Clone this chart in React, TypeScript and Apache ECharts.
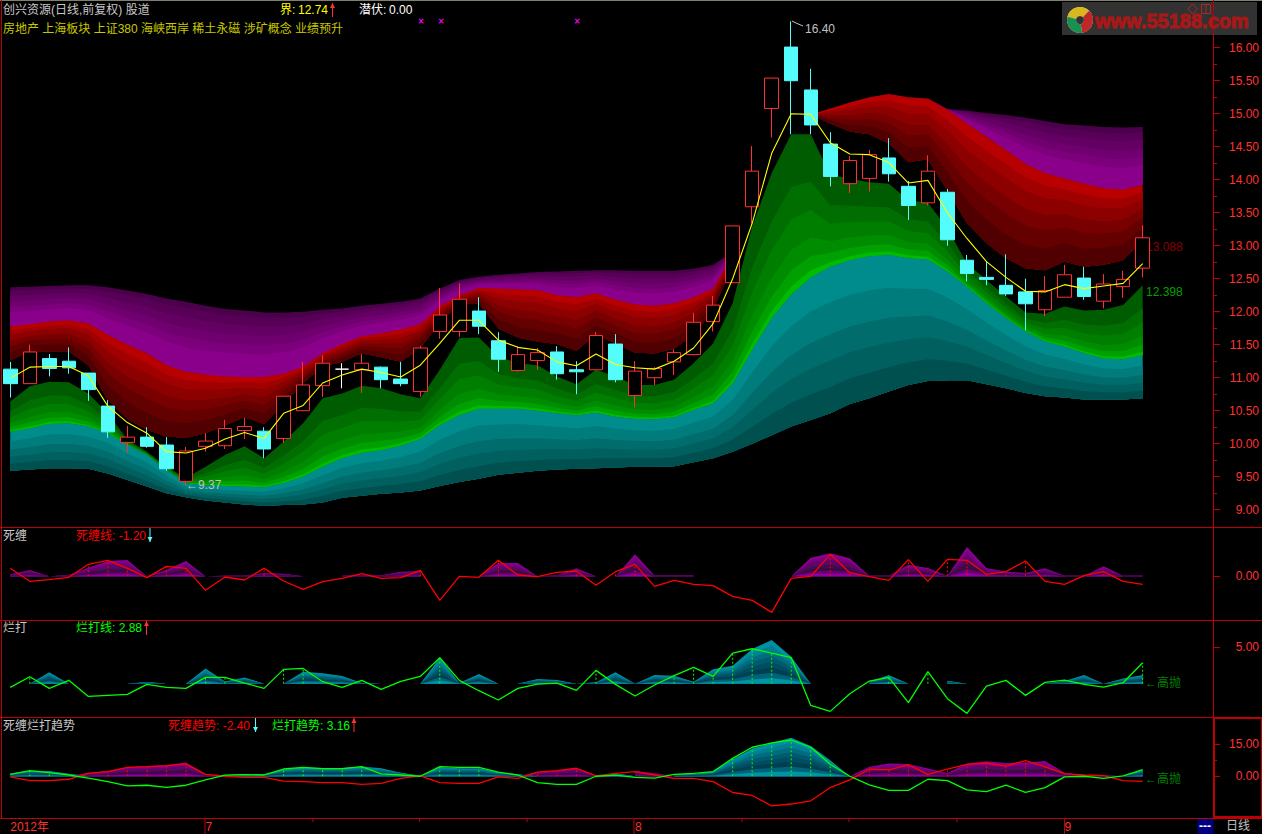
import React, { useEffect, useRef } from "react";
import * as echarts from "echarts";

// ---- candles ----
const opens = [11.13,10.91,11.29,11.25,11.07,10.57,10.02,10.10,9.98,9.43,9.96,9.97,10.20,10.19,10.08,10.50,10.88,11.13,11.12,11.16,10.98,10.79,11.70,11.70,12.01,11.56,11.11,11.26,11.39,11.12,11.12,11.51,10.73,11.00,11.24,11.35,11.85,12.44,13.59,15.08,16.01,15.36,14.54,13.94,14.02,14.33,13.90,13.65,13.81,12.78,12.52,12.40,12.30,12.03,12.22,12.51,12.16,12.38,12.66];
const closes = [10.91,11.39,11.14,11.15,10.82,10.18,10.10,9.96,9.62,9.89,10.04,10.23,10.26,9.92,10.72,10.89,11.22,11.13,11.22,10.97,10.91,11.45,11.95,12.19,11.78,11.28,11.35,11.38,11.06,11.09,11.64,10.97,11.10,11.14,11.38,11.84,12.10,13.30,14.13,15.54,15.50,14.83,14.05,14.29,14.38,14.09,13.61,14.13,13.09,12.58,12.49,12.27,12.12,12.32,12.56,12.23,12.42,12.49,13.12];
const lows = [10.70,10.91,11.02,11.06,10.65,10.09,9.86,9.94,9.59,9.37,9.88,9.92,10.07,9.78,10.01,10.50,10.71,10.84,10.77,10.84,10.87,10.71,11.59,11.62,11.66,11.09,11.09,11.12,10.97,10.75,11.12,10.93,10.55,10.89,11.04,11.34,11.70,12.44,13.34,14.64,14.69,14.69,13.90,13.80,13.82,13.97,13.39,13.61,13.00,12.46,12.40,12.24,11.72,11.93,12.22,12.18,12.05,12.21,12.52];
const highs = [11.24,11.50,11.36,11.46,11.07,10.66,10.27,10.25,10.10,9.95,10.16,10.36,10.39,10.25,10.72,11.24,11.34,11.22,11.36,11.17,11.24,11.48,12.36,12.43,12.22,11.69,11.48,11.45,11.48,11.25,11.69,11.66,11.25,11.16,11.43,11.98,12.24,13.30,14.51,15.54,16.40,15.68,14.72,14.36,14.45,14.63,13.98,14.37,13.86,12.86,12.76,12.87,12.50,12.54,12.71,12.68,12.57,12.62,13.31];
const ma = [10.99,11.16,11.17,11.17,11.03,10.57,10.32,10.16,9.88,9.86,9.93,10.07,10.17,10.08,10.46,10.58,10.92,11.04,11.13,11.08,11.01,11.19,11.52,11.87,11.87,11.57,11.46,11.42,11.24,11.18,11.36,11.20,11.15,11.13,11.25,11.45,11.82,12.50,13.34,14.40,15.00,14.99,14.56,14.39,14.38,14.26,13.95,13.99,13.50,13.11,12.76,12.52,12.31,12.30,12.41,12.35,12.39,12.43,12.73];

// ---- ribbon edges ----
const N = null;
const purpleTop = [12.37,12.38,12.39,12.40,12.40,12.37,12.32,12.27,12.20,12.15,12.09,12.04,12.02,11.99,11.99,12.00,12.03,12.05,12.09,12.12,12.15,12.20,12.35,12.48,12.53,12.56,12.58,12.60,12.61,12.62,12.63,12.63,12.62,12.62,12.62,12.65,12.71,12.91,N,N,N,14.99,15.08,15.17,15.25,15.30,15.25,15.23,15.07,15.05,15.01,14.98,14.94,14.89,14.84,14.82,14.80,14.79,14.80];
const redTop = [11.78,11.81,11.85,11.87,11.82,11.65,11.50,11.37,11.19,11.09,11.05,11.02,11.01,11.01,11.06,11.17,11.37,11.51,11.63,11.67,11.73,11.81,12.08,12.25,12.36,12.35,12.34,12.33,12.25,12.22,12.28,12.18,12.11,12.09,12.13,12.22,12.35,12.86,N,N,N,14.99,15.08,15.17,15.25,15.30,15.25,15.23,15.06,14.85,14.65,14.45,14.24,14.10,14.02,13.94,13.87,13.85,13.92];
const redBottom = [11.26,11.40,11.40,11.40,11.19,10.66,10.38,10.21,10.11,10.09,10.16,10.28,10.40,10.30,10.61,10.92,11.17,11.24,11.37,11.31,11.24,11.45,11.82,12.12,12.12,11.75,11.61,11.55,11.51,11.41,11.66,11.52,11.38,11.37,11.44,11.65,12.03,12.71,N,N,N,14.99,14.85,14.73,14.69,14.55,14.27,14.31,13.84,13.34,13.04,12.81,12.66,12.63,12.76,12.68,12.71,12.78,13.09];
const greenTop = [10.64,10.87,10.94,10.93,10.76,10.46,10.06,9.88,9.65,9.48,9.65,9.83,9.96,9.78,10.03,10.31,10.69,10.76,10.88,10.84,10.75,10.69,11.12,11.60,11.61,11.32,11.22,11.19,11.02,10.90,11.12,11.02,10.89,10.89,10.97,11.22,11.52,12.13,13.29,14.10,14.69,14.69,14.07,14.02,13.96,13.94,13.69,13.65,13.26,12.73,12.48,12.23,11.99,11.97,12.08,12.02,12.03,12.10,12.40];
const tealTop = [10.18,10.23,10.30,10.31,10.26,10.16,9.98,9.83,9.60,9.40,9.37,9.36,9.35,9.34,9.40,9.50,9.65,9.78,9.86,9.90,9.97,10.07,10.28,10.43,10.53,10.53,10.53,10.50,10.46,10.43,10.47,10.41,10.38,10.37,10.40,10.51,10.61,10.91,11.42,11.90,12.26,12.52,12.68,12.78,12.84,12.86,12.81,12.79,12.61,12.38,12.13,11.90,11.70,11.55,11.47,11.37,11.29,11.28,11.34];
const tealBottom = [9.59,9.61,9.63,9.63,9.62,9.55,9.45,9.35,9.25,9.19,9.14,9.11,9.08,9.06,9.07,9.08,9.11,9.18,9.21,9.24,9.26,9.29,9.36,9.42,9.47,9.53,9.56,9.59,9.61,9.62,9.63,9.64,9.65,9.65,9.66,9.72,9.78,9.88,10.00,10.13,10.26,10.36,10.46,10.60,10.69,10.79,10.89,10.95,10.96,10.96,10.90,10.84,10.77,10.72,10.70,10.67,10.67,10.67,10.69];

// ---- sub panels ----
const deathLine = [1.2,-0.75,-0.5,-0.15,1.8,2.4,1.2,-0.2,1.5,1.2,-2.1,-0.1,-0.55,1.2,-0.7,-1.95,-0.8,-0.3,0.4,-0.3,-0.2,0.9,-3.6,0,-0.15,2.4,0.2,-0.05,0.6,0.8,-1.35,0.7,1.8,-1.5,-0.6,-1.2,-1.4,-3,-3.6,-5.4,-0.3,0,3.3,0.55,-0.05,-0.6,2.5,-0.75,2.55,2.4,0.3,0.7,2.3,-0.75,-1.2,0.1,0.7,-0.75,-1.2];
const deathArea = [0.3,0.95,0,0.2,1.3,2.3,2.45,0,1.0,2.3,0,0.1,0.1,0.5,0.4,0,N,0.1,0.15,0.15,0.7,0.8,N,N,0,2.0,2.0,0,0.15,1.2,0,0,3.3,0.12,0.12,0.12,N,N,N,N,0,2.8,3.45,2.7,0.1,0.1,1.75,1.25,0.1,4.4,1.25,0.7,0.5,1.2,0.1,0.1,1.5,0.1,0.1];
const deathDots = [4,5,6,8,9,13,21,25,29,31,32,42,43,46,48,49,50,51,52,56];
const beatLine = [-0.5,0.96,-0.64,0.46,-1.74,-1.6,-1.47,-0.09,-0.5,-0.64,0.87,0.87,0.09,-0.64,1.97,2.1,0.27,-0.5,0.46,-0.78,0.32,1.0,3.57,0.46,-0.96,-2.24,-0.64,-0.05,0.09,-0.92,1.83,-0.09,-1.69,-0.18,1.1,2.24,1.0,4.2,4.8,4.2,3.57,-2.98,-3.8,-1.37,0.37,0.87,-2.6,1.65,-2.06,-4.07,-0.32,0.46,-1.6,0.18,0.5,-0.09,-0.46,0.14,2.88];
const beatArea = [N,0,1.56,0,N,N,0,0.25,0,0,2.1,0.3,0.87,0,0,1.65,1.42,1.05,0.1,0,N,0,3.57,0.1,1.33,0,0,0.64,0.5,0,0.2,1.56,0,1.2,1.1,0.27,2.0,2.47,4.76,6.0,3.7,0,N,N,0.27,1.2,0,N,0.4,0,N,N,N,0,0.37,1.2,0,0.73,1.2];
const beatDots = [1,10,11,14,15,22,30,34,35,36,37,38,39,40,45,47,58];
const trendRed = [-0.3,-2,-2,-1.4,1.4,2.2,4.2,4.5,5,5.8,0.9,0,-0.5,-0.5,-2.3,-2.5,-3,-3,-3.75,-3.3,-1,0.15,-3,-3.3,-3.3,-0.3,-1,1.9,2.65,3.75,0.15,1.4,2.2,0.6,-1,-1,-2.5,-7.6,-9,-13.9,-13,-11.5,-5.3,-1.7,3.3,3,5.3,0.9,3.4,5.6,6.1,4.8,7.3,4.5,1.1,0.6,0.3,-2,-2.4];
const trendGreen = [0.9,2.65,1.7,0.6,-0.9,-2.5,-4.5,-4.2,-5.2,-4.2,-1.7,0.5,0.8,0.6,3.4,4.2,3.6,3.6,4.5,1.1,0.6,0,4.5,4.2,4.2,1.9,0.6,-3,-3.75,-3.75,0,0.5,-0.5,-0.9,0.9,1.4,2.2,8.4,13.6,15.6,17,13.6,5.6,0,-4,-6.6,-6.6,-1.4,-2,-6.4,-7.2,-4.2,-7.5,-5.3,-0.3,0,-1,0.15,3.16];
const trendPurpleArea = [N,N,N,0,1.6,2.5,4.4,4.7,5.2,6.5,0.9,0,N,N,N,N,N,N,N,N,N,N,N,N,N,N,0,1.9,2.6,3.7,0.4,N,2.5,1.4,0,N,N,N,N,N,N,N,N,0,4.5,6,5.8,3.6,1.5,6,7,6.2,6.5,7.2,1.6,0.6,0.5,0,N];
const trendTealArea = [1.3,2.6,2.5,1.2,0,N,N,N,N,N,N,0.6,0.9,0.7,3.2,4.1,3.9,3.9,4.6,3.7,1.7,0.3,4.2,3.7,3.7,1.9,1.0,0,N,N,0,1.4,0,N,0.9,1,2.2,8,13,15.6,18,14.2,7.5,0,N,N,N,N,N,N,N,N,N,N,N,N,N,0,3];
const trendRedDots = [5,6,7,8,9,27,28,29,44,45,46,47,48,49,50,51,52,53];
const trendGreenDots = [1,2,14,15,16,17,18,22,23,24,37,38,39,40,41,42];

const mainTicks = [9,9.5,10,10.5,11,11.5,12,12.5,13,13.5,14,14.5,15,15.5,16];
const mainMinorTicks = [9.25,9.75,10.25,10.75,11.25,11.75,12.25,12.75,13.25,13.75,14.25,14.75,15.25,15.75];
const timeLabels: Record<number, string> = { 0: "2012年", 10: "7", 32: "8", 54: "9" };
const timeTicks = [313, 419.5, 527, 742, 849, 957];
const timeSeps = [205, 634, 1064.5];
const concepts = "房地产 上海板块 上证380 海峡西岸 稀土永磁 涉矿概念 业绩预升";

const purpleShades = ["#4a004a","#580058","#640064","#700070","#7c007c","#8a008a"];
const redShades = ["#b80000","#a00000","#8c0000","#780000","#640000","#500000"];
const greenShades = ["#005c00","#006e00","#007e00","#008c00","#00a000","#00bc00"];
const tealShades = ["#008c8c","#007c7c","#006c6c","#006060","#005050"];
const purpleFill = ["#8a0090","#7a0080","#680070","#560a60","#440a50","#3a0a40","#6a0070","#9000a0"];
const tealFill = ["#0090a4","#007f92","#006c80","#005a6e","#004c60","#003e52","#006478","#0094a4"];

const RED_AXIS = "#c00000";
const RED_TEXT = "#ff3232";
const FONT = '"Liberation Sans","Noto Sans CJK SC"';
const n = closes.length;
const categories = Array.from({ length: n + 3 }, (_, i) => String(i));

// Each ribbon's outer edges are read values. The shade boundaries inside it
// are a fill style: fractions of the read edges.
function ribbon(name: string, top: (number|null)[], bottom: (number|null)[] | null, colors: string[], stops: number[], g: number, z: number) {
  return {
    type: "custom", name, xAxisIndex: g, yAxisIndex: g, z, silent: true,
    data: [[0, 0]], encode: { x: 0, y: 1 },
    renderItem: (_: any, api: any) => {
      const runs: number[][] = [];
      let run: number[] = [];
      top.forEach((t, i) => {
        const b = bottom ? bottom[i] : 0;
        if (t == null || b == null) { if (run.length) runs.push(run); run = []; }
        else run.push(i);
      });
      if (run.length) runs.push(run);
      const children: any[] = [];
      runs.filter((r) => r.length > 1).forEach((r) => {
        colors.forEach((c, k) => {
          const upper = r.map((i) => {
            const t = top[i] as number, b = bottom ? (bottom[i] as number) : 0;
            return api.coord([i, t + (b - t) * stops[k]]);
          });
          const lower = [...r].reverse().map((i) => api.coord([i, bottom ? (bottom[i] as number) : 0]));
          children.push({ type: "polygon", silent: true, shape: { points: [...upper, ...lower] }, style: { fill: c } });
        });
      });
      return { type: "group", children };
    },
  };
}

function dots(name: string, idx: number[], values: number[], color: string, g: number) {
  return {
    type: "custom", name, xAxisIndex: g, yAxisIndex: g, z: 4, silent: true,
    data: idx.map((i) => [i, values[i]]), encode: { x: 0, y: 1 },
    renderItem: (_: any, api: any) => {
      const a = api.coord([api.value(0), 0]);
      const b = api.coord([api.value(0), api.value(1)]);
      return { type: "line", shape: { x1: a[0], y1: a[1], x2: b[0], y2: b[1] },
        style: { stroke: color, lineWidth: 1, lineDash: [2, 2] } };
    },
  };
}

function line(name: string, data: number[], color: string, g: number) {
  return { type: "line", name, data, xAxisIndex: g, yAxisIndex: g, z: 5, symbol: "none",
    lineStyle: { color, width: 1.3 }, silent: true };
}

const uniform = (k: number) => Array.from({ length: k + 1 }, (_, i) => i / k);

const txt = (text: string, x: number, y: number, fill: string, extra: any = {}, z = 20) => ({
  type: "text", silent: true, z,
  style: { text, x, y, fill, font: `12px ${FONT}`, textVerticalAlign: "middle", ...extra },
});
const seg = (x1: number, y1: number, x2: number, y2: number, stroke = RED_AXIS, lineWidth = 1) => ({
  type: "line", silent: true, z: 15, shape: { x1, y1, x2, y2 }, style: { stroke, lineWidth },
});
const arrow = (x: number, y: number, fill: string, down = false) => {
  const tip = down ? y + 7 : y - 7;
  const neck = down ? y + 2 : y - 2;
  return [
    seg(x, y - 7, x, y + 7, fill),
    { type: "polygon", silent: true, z: 15, shape: { points: [[x - 2.5, neck], [x + 2.5, neck], [x, tip]] }, style: { fill } },
  ];
};

function yAxis(g: number, min: number, max: number, ticks: number[], len: number, labels: boolean) {
  return {
    type: "value", gridIndex: g, position: "right", offset: 2, min, max, scale: true,
    axisLine: { show: false }, splitLine: { show: false },
    axisTick: { show: true, customValues: ticks, length: len, lineStyle: { color: RED_AXIS } },
    axisLabel: labels
      ? { show: true, customValues: ticks, color: RED_TEXT, fontSize: 12, fontFamily: FONT, align: "right", margin: 46,
          formatter: (v: number) => v.toFixed(2) }
      : { show: false },
  };
}

export default function App() {
  const ref = useRef<HTMLDivElement>(null);
  useEffect(() => {
    document.body.style.margin = "0";
    document.body.style.background = "#000";
    const chart = echarts.init(ref.current!, null, { renderer: "svg", width: 1262, height: 834 });
    const candleData = closes.map((c, i) => {
      const value = [opens[i], c, lows[i], highs[i]];
      if (opens[i] === c) {
        const w = "#ffffff";
        return { value, itemStyle: { color: w, color0: w, borderColor: w, borderColor0: w, borderColorDoji: w } };
      }
      return { value };
    });
    const grids = [
      { left: 0.5, width: 1211.1, top: 1, height: 526 },
      { left: 0.5, width: 1211.1, top: 528, height: 92 },
      { left: 0.5, width: 1211.1, top: 621, height: 96 },
      { left: 0.5, width: 1211.1, top: 718, height: 100 },
    ];
    const xAxes = grids.map((_, g) => ({
      type: "category", gridIndex: g, data: categories, boundaryGap: true,
      axisLine: { show: false }, axisTick: { show: false }, splitLine: { show: false },
      axisLabel: g === 3
        ? { show: true, interval: 0, color: RED_TEXT, fontSize: 12, fontFamily: FONT, align: "left", margin: 3,
            formatter: (_v: string, i: number) => timeLabels[i] ?? "" }
        : { show: false },
    }));
    chart.setOption({
      animation: false,
      backgroundColor: "#000000",
      grid: grids,
      xAxis: xAxes,
      yAxis: [
        yAxis(0, 8.738, 16.708, mainTicks, 7, true),
        yAxis(1, -6.55, 7.25, [0], 7, true),
        yAxis(2, -4.57, 8.61, [5], 7, true),
        yAxis(3, -19.55, 27.3, [0, 15], 7, true),
        yAxis(0, 8.738, 16.708, mainMinorTicks, 4, false),
        yAxis(3, -19.55, 27.3, [7.5], 4, false),
      ],
      series: [
        ribbon("紫", purpleTop, redTop, purpleShades, [0, 0.09, 0.22, 0.37, 0.51, 0.65], 0, 1),
        ribbon("红", redTop, redBottom, redShades, [0, 0.13, 0.26, 0.43, 0.59, 0.78], 0, 1),
        ribbon("绿", greenTop, tealTop, greenShades, [0, 0.33, 0.53, 0.72, 0.85, 0.95], 0, 1),
        ribbon("青", tealTop, tealBottom, tealShades, [0, 0.24, 0.46, 0.64, 0.82], 0, 1),
        {
          type: "candlestick", name: "K", data: candleData, xAxisIndex: 0, yAxisIndex: 0, z: 3, barWidth: 14, silent: true, clip: false,
          itemStyle: { color: "#000000", color0: "#54fcfc", borderColor: "#ff3232", borderColor0: "#54fcfc", borderColorDoji: "#54fcfc", borderWidth: 1 },
        },
        { ...line("MA", ma, "#ffff00", 0), lineStyle: { color: "#ffff00", width: 1.1 } },
        ribbon("死缠区", deathArea, null, purpleFill, uniform(8), 1, 2),
        dots("死缠点", deathDots, deathLine, "#ff0000", 1),
        line("死缠线", deathLine, "#ff0000", 1),
        ribbon("烂打区", beatArea, null, tealFill, uniform(8), 2, 2),
        dots("烂打点", beatDots, beatLine, "#00ff00", 2),
        line("烂打线", beatLine, "#00ff00", 2),
        ribbon("趋势紫", trendPurpleArea, null, purpleFill, uniform(8), 3, 2),
        ribbon("趋势青", trendTealArea, null, tealFill, uniform(8), 3, 2),
        dots("死缠趋势点", trendRedDots, trendRed, "#ff0000", 3),
        dots("烂打趋势点", trendGreenDots, trendGreen, "#00ff00", 3),
        line("死缠趋势", trendRed, "#ff0000", 3),
        line("烂打趋势", trendGreen, "#00ff00", 3),
      ],
      graphic: [
        // logo
        { type: "rect", silent: true, z: 14, shape: { x: 1062, y: 2, width: 195, height: 33 }, style: { fill: "#323232" } },
        { type: "circle", silent: true, z: 15, shape: { cx: 1080, cy: 20, r: 13 }, style: { fill: "#e0e0d0" } },
        { type: "sector", silent: true, z: 16, shape: { cx: 1080, cy: 20, r: 13, r0: 4, startAngle: -2.9, endAngle: -0.8 }, style: { fill: "#d8b820" } },
        { type: "sector", silent: true, z: 16, shape: { cx: 1080, cy: 20, r: 13, r0: 4, startAngle: -0.8, endAngle: 1.4 }, style: { fill: "#c02828" } },
        { type: "sector", silent: true, z: 16, shape: { cx: 1080, cy: 20, r: 13, r0: 4, startAngle: 1.4, endAngle: 3.4 }, style: { fill: "#189050" } },
        { type: "circle", silent: true, z: 16, shape: { cx: 1080, cy: 20, r: 4 }, style: { fill: "#323232" } },
        txt("www.55188.com", 1095, 21, "#a81818", { font: 'bold 20px "Liberation Sans"', stroke: "#a81818", lineWidth: 1 }),
        { type: "polygon", silent: true, z: 16, shape: { points: [[1192.7, 4], [1197.5, 9], [1192.7, 14], [1188, 9]] }, style: { fill: "none", stroke: "#a82828" } },
        { type: "rect", silent: true, z: 16, shape: { x: 1201.5, y: 4.5, width: 9, height: 9 }, style: { fill: "none", stroke: "#a82828" } },
        seg(1206, 4.5, 1206, 13.5, "#a82828"),
        // frame
        seg(0, 0.5, 1262, 0.5, "#808070"),
        seg(1.5, 0, 1.5, 818, RED_AXIS),
        seg(1213.5, 0, 1213.5, 818, RED_AXIS),
        seg(0, 527.5, 1262, 527.5),
        seg(0, 620.5, 1262, 620.5),
        seg(0, 717.5, 1213, 717.5),
        seg(0, 818.5, 1262, 818.5),
        ...timeTicks.map((x) => seg(x, 818, x, 822)),
        ...timeSeps.map((x) => seg(x, 818, x, 834)),
        { type: "rect", silent: true, z: 15, shape: { x: 1214, y: 718, width: 48, height: 99 }, style: { fill: "transparent", stroke: RED_AXIS, lineWidth: 2 } },
        { type: "rect", silent: true, z: 15, shape: { x: 1197.5, y: 819, width: 16, height: 15 }, style: { fill: "#000080" } },
        txt("---", 1199, 826, "#ffffff", { font: `bold 12px ${FONT}` }),
        txt("日线", 1226, 826, "#c0c0c0"),
        // header
        txt("创兴资源(日线,前复权) 股道", 3, 10, "#c8c8c8"),
        txt("界:", 280, 10, "#ffff00"),
        txt("12.74", 298, 10, "#ffff00"),
        ...arrow(332.5, 10, "#ff3232"),
        txt("潜伏:", 359, 10, "#ffffff"),
        txt("0.00", 389, 10, "#ffffff"),
        txt(concepts, 3, 29, "#c8c800"),
        ...[421, 441, 577].map((x) => txt("×", x, 21, "#ff00ff", { textAlign: "center", font: 'bold 8px "DejaVu Sans"' })),
        // price notes
        { type: "polyline", silent: true, z: 15, shape: { points: [[792, 21], [796, 23], [803, 26]] }, style: { stroke: "#c0c0c0", fill: "none", lineWidth: 1 } },
        txt("16.40", 805, 29, "#c0c0c0"),
        txt("←9.37", 186, 485, "#c0c0c0"),
        txt("13.088", 1146, 247, "#8b0000", {}, 2),
        txt("12.398", 1146, 292, "#00a000"),
        txt("←高抛", 1145, 683, "#008000"),
        txt("←高抛", 1145, 779, "#008000"),
        // panel titles
        txt("死缠", 3, 536, "#c8c8c8"),
        txt("死缠线: -1.20", 76, 536, "#ff0000"),
        ...arrow(150, 535, "#54fcfc", true),
        txt("烂打", 3, 628, "#c8c8c8"),
        txt("烂打线: 2.88", 76, 628, "#00ff00"),
        ...arrow(146.5, 628, "#ff3232"),
        txt("死缠烂打趋势", 3, 726, "#c8c8c8"),
        txt("死缠趋势: -2.40", 168, 726, "#ff0000"),
        ...arrow(255.5, 725, "#54fcfc", true),
        txt("烂打趋势: 3.16", 272, 726, "#00ff00"),
        ...arrow(354, 725, "#ff3232"),
      ],
    });
    return () => chart.dispose();
  }, []);
  return <div ref={ref} style={{ position: "absolute", left: 0, top: 0, width: 1262, height: 834 }} />;
}
